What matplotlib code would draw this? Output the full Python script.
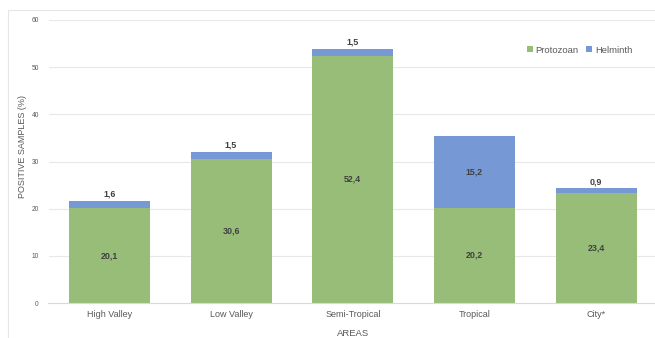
import matplotlib
matplotlib.use("Agg")
import matplotlib.pyplot as plt
from matplotlib.patches import Rectangle
import numpy as np

plt.rcParams['font.family'] = ['Liberation Sans', 'DejaVu Sans']

areas = ["High Valley", "Low Valley", "Semi-Tropical", "Tropical", "City*"]
protozoan = [20.1, 30.6, 52.4, 20.2, 23.4]
helminth = [1.6, 1.5, 1.5, 15.2, 0.9]
yticks = [0, 10, 20, 30, 40, 50, 60]

green = "#97BD78"
blue = "#7699D6"
label_color = "#404040"

W, H = 655, 338
fig = plt.figure(figsize=(W / 100, H / 100), dpi=100)

# light outer frame
fig.patches.append(Rectangle((8 / W, -0.05), 1.0, (H - 10) / H + 0.05,
                             transform=fig.transFigure, fill=False,
                             edgecolor="#E6E6E6", linewidth=0.8))

ax = fig.add_axes([48.5 / W, 35 / H, (657 - 48.5) / W, 283 / H])
x = np.arange(len(areas))
width = 0.665

ax.bar(x, protozoan, width, color=green, label="Protozoan", zorder=2)
ax.bar(x, helminth, width, bottom=protozoan, color=blue, label="Helminth", zorder=2)

for xi, p, h in zip(x, protozoan, helminth):
    ax.text(xi, p / 2, f"{p:.1f}".replace(".", ","), ha="center", va="center",
            fontsize=6.4, fontweight="bold", color=label_color, zorder=3)
    if h > 5:
        ax.text(xi, p + h / 2, f"{h:.1f}".replace(".", ","), ha="center", va="center",
                fontsize=6.4, fontweight="bold", color=label_color, zorder=3)
    else:
        ax.text(xi, p + h + 0.45, f"{h:.1f}".replace(".", ","), ha="center", va="bottom",
                fontsize=6.4, fontweight="bold", color=label_color, zorder=3)

ax.set_xlim(-0.5, len(areas) - 0.5)
ax.set_ylim(0, 60)
ax.set_yticks(yticks)
ax.set_xticks(x)
ax.set_xticklabels(areas)
ax.tick_params(axis="y", length=0, labelsize=4.8, labelcolor="#595959", pad=7)
ax.tick_params(axis="x", length=0, labelsize=6.5, labelcolor="#595959", pad=5)
ax.grid(axis="y", color="#E8E8E8", linewidth=0.8, zorder=0)
for s in ["top", "right", "left"]:
    ax.spines[s].set_visible(False)
ax.spines["bottom"].set_color("#D9D9D9")
ax.spines["bottom"].set_linewidth(0.8)

ax.set_xlabel("AREAS", fontsize=6.8, color="#595959", labelpad=7)
ax.set_ylabel("POSITIVE SAMPLES (%)", fontsize=6.5, color="#595959")
ax.yaxis.set_label_coords((27 - 48.5) / (657 - 48.5), (303 - 147) / 283)

leg = ax.legend(loc="upper right", bbox_to_anchor=((636 - 48.5) / (657 - 48.5), (303 - 42) / 283),
                ncol=2, frameon=False, fontsize=6.8, handlelength=0.6, handleheight=0.6,
                handletextpad=0.3, columnspacing=0.8, borderaxespad=0)
for t in leg.get_texts():
    t.set_color("#595959")

fig.savefig("out.png", dpi=100)
